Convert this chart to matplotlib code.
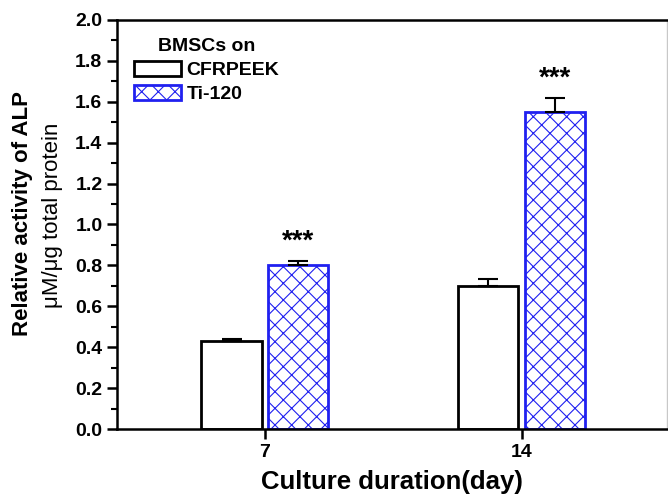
import numpy as np
import matplotlib.pyplot as plt
from matplotlib.ticker import MultipleLocator

plt.rcParams['font.family'] = ['Liberation Sans', 'DejaVu Sans']
plt.rcParams['hatch.linewidth'] = 0.8

days = ['7', '14']
cfrpeek = [0.43, 0.70]
cfrpeek_err = [0.01, 0.035]
ti120 = [0.80, 1.55]
ti120_err = [0.02, 0.07]
stars = ['***', '***']

fig = plt.figure(figsize=(6.68, 5), dpi=100)
ax = fig.add_axes([117/668, 71/500, 550/668, 409/500])

x = np.arange(len(days))
w = 0.235
off = 0.13

ax.bar(x - off, cfrpeek, w, color='white', edgecolor='black', linewidth=2,
       label='CFRPEEK', zorder=2)
ax.errorbar(x - off, cfrpeek, yerr=[np.zeros(2), cfrpeek_err], fmt='none',
            ecolor='black', elinewidth=1.5, capsize=7, capthick=1.5, zorder=3)
ax.bar(x + off, ti120, w, color='white', edgecolor='#2020f0', hatch='xx',
       linewidth=2, label='Ti-120', zorder=2)
ax.errorbar(x + off, ti120, yerr=[np.zeros(2), ti120_err], fmt='none',
            ecolor='black', elinewidth=1.5, capsize=7, capthick=1.5, zorder=3)

# significance marks above the Ti-120 bars
for xi, v, e, s in zip(x, ti120, ti120_err, stars):
    ax.text(xi + off, v + e + 0.095, s, ha='center', va='center',
            fontsize=20, fontweight='bold')

ax.set_xlim(-0.576, 1.566)
ax.set_ylim(0, 2.0)
ax.set_xticks(x)
ax.set_xticklabels(days)
ax.yaxis.set_major_locator(MultipleLocator(0.2))
ax.yaxis.set_minor_locator(MultipleLocator(0.1))
ax.yaxis.set_major_formatter(plt.FormatStrFormatter('%.1f'))

for sp in ax.spines.values():
    sp.set_linewidth(1.8)
ax.spines['right'].set_color('#c8c8c8')
ax.spines['right'].set_linewidth(1.0)

ax.tick_params(axis='both', which='major', direction='out', length=7,
               width=1.8, labelsize=14)
ax.tick_params(axis='y', which='minor', direction='out', length=4, width=1.5)
for lab in ax.get_xticklabels() + ax.get_yticklabels():
    lab.set_fontweight('bold')

ax.set_xlabel('Culture duration(day)', fontsize=18.5, fontweight='bold', labelpad=7)
ax.set_ylabel('')
fig.text(0.034, 0.572, 'Relative activity of ALP', rotation=90, ha='center',
         va='center', fontsize=16, fontweight='bold')
fig.text(0.078, 0.57, 'μM/μg total protein', rotation=90, ha='center',
         va='center', fontsize=16)

leg = ax.legend(loc='upper left', bbox_to_anchor=(0.006, 0.99), frameon=False,
                title='BMSCs on', fontsize=14, handlelength=2.4,
                handleheight=0.85, handletextpad=0.3, labelspacing=0.3,
                borderaxespad=0.3,
                title_fontproperties={'weight': 'bold', 'size': 14})
for t in leg.get_texts():
    t.set_fontweight('bold')

fig.savefig('out.png', dpi=100)
